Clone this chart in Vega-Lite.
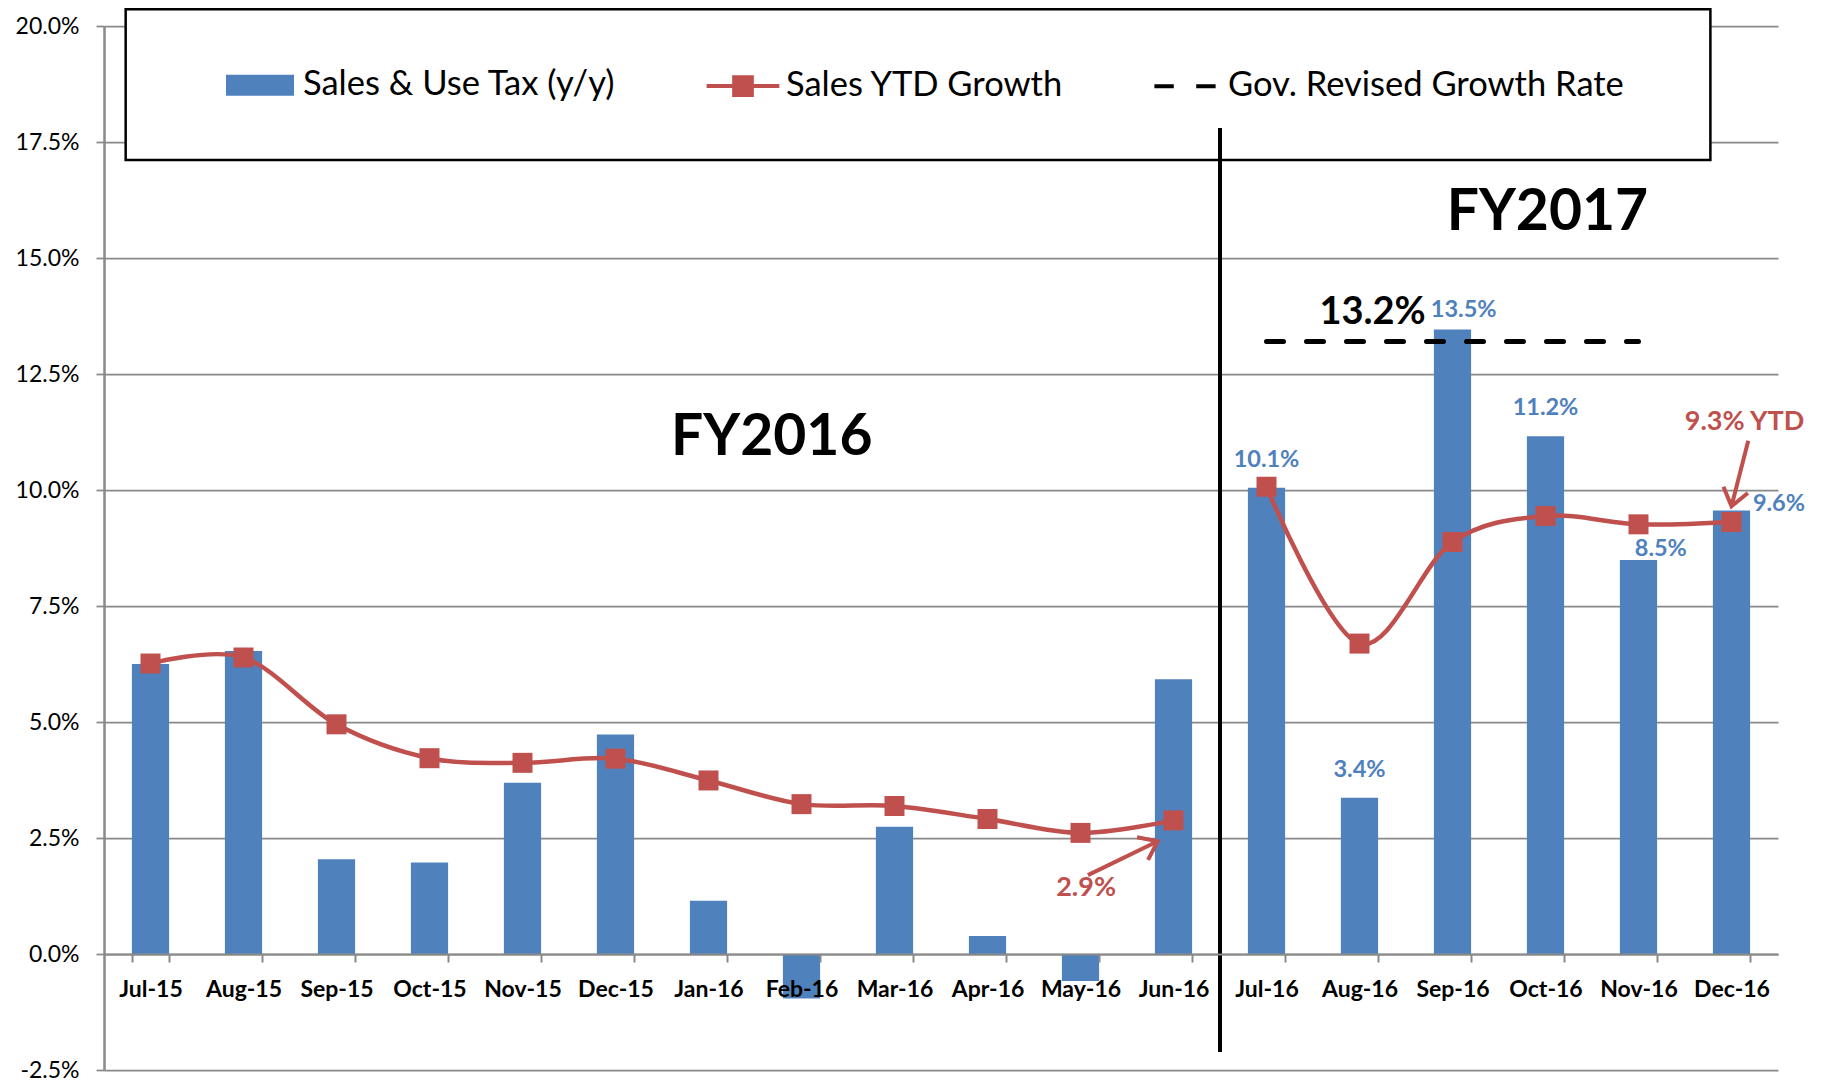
{
  "$schema": "https://vega.github.io/schema/vega-lite/v6.json",
  "width": 1674,
  "height": 1044,
  "autosize": {"type": "none"},
  "padding": {"left": 104, "top": 26, "right": 51, "bottom": 14},
  "background": "white",
  "config": {"font": "Lato", "view": {"stroke": null}},
  "datasets": {
    "months": [
      {"month": "Jul-15", "fy": "FY2016", "tax": 6.25, "ytd": 6.26},
      {"month": "Aug-15", "fy": "FY2016", "tax": 6.53, "ytd": 6.39},
      {"month": "Sep-15", "fy": "FY2016", "tax": 2.04, "ytd": 4.95},
      {"month": "Oct-15", "fy": "FY2016", "tax": 1.97, "ytd": 4.22},
      {"month": "Nov-15", "fy": "FY2016", "tax": 3.69, "ytd": 4.12},
      {"month": "Dec-15", "fy": "FY2016", "tax": 4.73, "ytd": 4.21},
      {"month": "Jan-16", "fy": "FY2016", "tax": 1.15, "ytd": 3.74},
      {"month": "Feb-16", "fy": "FY2016", "tax": -0.96, "ytd": 3.23},
      {"month": "Mar-16", "fy": "FY2016", "tax": 2.74, "ytd": 3.19},
      {"month": "Apr-16", "fy": "FY2016", "tax": 0.39, "ytd": 2.91},
      {"month": "May-16", "fy": "FY2016", "tax": -0.58, "ytd": 2.61},
      {"month": "Jun-16", "fy": "FY2016", "tax": 5.92, "ytd": 2.88},
      {"month": "Jul-16", "fy": "FY2017", "tax": 10.05, "ytd": 10.07, "gov": 13.2},
      {"month": "Aug-16", "fy": "FY2017", "tax": 3.37, "ytd": 6.69, "gov": 13.2},
      {"month": "Sep-16", "fy": "FY2017", "tax": 13.46, "ytd": 8.88, "gov": 13.2},
      {"month": "Oct-16", "fy": "FY2017", "tax": 11.16, "ytd": 9.44, "gov": 13.2},
      {"month": "Nov-16", "fy": "FY2017", "tax": 8.49, "ytd": 9.26, "gov": 13.2},
      {"month": "Dec-16", "fy": "FY2017", "tax": 9.56, "ytd": 9.31}
    ],
    "series": [
      {"series": "Sales & Use Tax (y/y)"},
      {"series": "Sales YTD Growth"},
      {"series": "Gov. Revised Growth Rate"}
    ],
    "notes": [
      {"label": "FY2016", "kind": "period", "xi": 6.68, "y": 11.13},
      {"label": "FY2017", "kind": "period", "xi": 15.02, "y": 15.97},
      {"label": "13.2%", "kind": "gov", "xi": 13.14, "y": 13.82},
      {"label": "10.1%", "kind": "tax", "xi": 12.0, "y": 10.65},
      {"label": "3.4%", "kind": "tax", "xi": 13.0, "y": 3.96},
      {"label": "13.5%", "kind": "tax", "xi": 14.12, "y": 13.88},
      {"label": "11.2%", "kind": "tax", "xi": 15.0, "y": 11.76},
      {"label": "8.5%", "kind": "tax", "xi": 16.24, "y": 8.72},
      {"label": "9.6%", "kind": "tax", "xi": 17.51, "y": 9.69},
      {"label": "2.9%", "kind": "ytd", "xi": 10.06, "y": 1.42},
      {"label": "9.3% YTD", "kind": "ytd", "xi": 17.14, "y": 11.46}
    ],
    "arrows": [
      {"arrow": "A", "x_tail": 10.08, "y_tail": 1.7, "x_tip": 10.83, "y_tip": 2.43},
      {"arrow": "B", "x_tail": 17.18, "y_tail": 11.06, "x_tip": 17.0, "y_tip": 9.65}
    ],
    "divider": [
      {"xi": 11.5, "y_top": 17.8, "y_bottom": -2.11}
    ],
    "frame": [
      {"x_left": -0.267, "x_right": 16.773, "y_top": 20.36, "y_bottom": 17.11}
    ]
  },
  "layer": [
    {
      "data": {"name": "months"},
      "layer": [
        {
          "mark": {"type": "bar", "color": "#4F81BD"},
          "encoding": {
            "x": {
              "field": "month", "type": "nominal", "sort": null,
              "scale": {
                "domain": ["Jul-15", "Aug-15", "Sep-15", "Oct-15", "Nov-15", "Dec-15", "Jan-16", "Feb-16", "Mar-16", "Apr-16", "May-16", "Jun-16", "Jul-16", "Aug-16", "Sep-16", "Oct-16", "Nov-16", "Dec-16"],
                "paddingInner": 0.6, "paddingOuter": 0.3
              },
              "axis": {
                "title": null, "orient": "bottom",
                "offset": {"expr": "scale('y', 0) - height"},
                "tickBand": "extent", "ticks": true, "tickSize": 8, "tickColor": "#898989", "tickWidth": 2,
                "domainColor": "#898989", "domainWidth": 2,
                "labelFont": "Lato", "labelFontWeight": "bold", "labelFontSize": 23, "labelColor": "black",
                "labelPadding": 16, "labelAngle": 0, "grid": false, "zindex": 1
              }
            },
            "y": {
              "field": "tax", "type": "quantitative",
              "scale": {"domain": [-2.5, 20], "nice": false, "zero": false},
              "axis": {
                "title": null,
                "values": [-2.5, 0, 2.5, 5, 7.5, 10, 12.5, 15, 17.5, 20],
                "labelExpr": "(datum.value < 0 ? '-' : '') + format(abs(datum.value), '.1f') + '%'",
                "grid": true, "gridColor": "#898989", "gridWidth": 1.75,
                "domainColor": "#898989", "domainWidth": 2.5,
                "tickColor": "#898989", "tickSize": 8, "tickWidth": 1.75,
                "labelFont": "Lato", "labelFontSize": 23, "labelColor": "black", "labelPadding": 17,
                "zindex": 0
              }
            }
          }
        },
        {
          "mark": {"type": "line", "interpolate": "cardinal", "tension": 0, "strokeWidth": 4.5, "color": "#C0504D"},
          "encoding": {
            "x": {"field": "month", "type": "nominal", "sort": null},
            "y": {"field": "ytd", "type": "quantitative"},
            "detail": {"field": "fy"}
          }
        },
        {
          "mark": {"type": "point", "shape": "square", "filled": true, "size": 400, "opacity": 1, "color": "#C0504D"},
          "encoding": {
            "x": {"field": "month", "type": "nominal", "sort": null},
            "y": {"field": "ytd", "type": "quantitative"}
          }
        },
        {
          "transform": [{"filter": "isValid(datum.gov)"}],
          "mark": {"type": "line", "strokeWidth": 5, "strokeDash": [17, 23], "strokeCap": "round", "color": "black"},
          "encoding": {
            "x": {"field": "month", "type": "nominal", "sort": null},
            "y": {"field": "gov", "type": "quantitative"}
          }
        },
        {
          "data": {"name": "series"},
          "mark": {"type": "point", "filled": true, "opacity": 0},
          "encoding": {
            "color": {
              "field": "series", "type": "nominal",
              "scale": {"domain": ["Sales & Use Tax (y/y)", "Sales YTD Growth", "Gov. Revised Growth Rate"], "range": ["#4F81BD", "#C0504D", "transparent"]},
              "legend": {
                "title": null, "orient": "none", "legendX": 120, "legendY": 23,
                "direction": "horizontal", "columns": 3, "padding": 0,
                "symbolSize": 4624, "symbolStrokeWidth": 4, "symbolOpacity": 1,
                "labelFont": "Lato", "labelFontSize": 34.5, "labelColor": "black",
                "labelOffset": 7, "columnPadding": 82, "labelLimit": 800
              }
            },
            "stroke": {
              "field": "series", "type": "nominal",
              "scale": {"domain": ["Sales & Use Tax (y/y)", "Sales YTD Growth", "Gov. Revised Growth Rate"], "range": ["transparent", "#C0504D", "#000000"]},
              "legend": {
                "title": null, "orient": "none", "legendX": 120, "legendY": 23,
                "direction": "horizontal", "columns": 3, "padding": 0,
                "symbolSize": 4624, "symbolStrokeWidth": 4, "symbolOpacity": 1,
                "labelFont": "Lato", "labelFontSize": 34.5, "labelColor": "black",
                "labelOffset": 7, "columnPadding": 82, "labelLimit": 800
              }
            },
            "shape": {
              "field": "series", "type": "nominal",
              "scale": {"domain": ["Sales & Use Tax (y/y)", "Sales YTD Growth", "Gov. Revised Growth Rate"], "range": ["M-1,-0.31H1V0.31H-1Z", "M-1.07,0H1.07M-0.26,-0.26H0.26V0.26H-0.26Z", "M-0.9,0H-0.33M0.33,0H0.9"]},
              "legend": {
                "title": null, "orient": "none", "legendX": 120, "legendY": 23,
                "direction": "horizontal", "columns": 3, "padding": 0,
                "symbolSize": 4624, "symbolStrokeWidth": 4, "symbolOpacity": 1,
                "labelFont": "Lato", "labelFontSize": 34.5, "labelColor": "black",
                "labelOffset": 7, "columnPadding": 82, "labelLimit": 800
              }
            }
          }
        }
      ]
    },
    {
      "layer": [
        {
          "data": {"name": "frame"},
          "mark": {"type": "rect", "fill": "white", "stroke": "black", "strokeWidth": 2.5},
          "encoding": {
            "x": {"field": "x_left", "type": "quantitative", "scale": {"domain": [-0.5, 17.5], "nice": false, "zero": false}, "axis": null},
            "x2": {"field": "x_right"},
            "y": {"field": "y_top", "type": "quantitative", "scale": {"domain": [-2.5, 20], "nice": false, "zero": false}},
            "y2": {"field": "y_bottom"}
          }
        },
        {
          "data": {"name": "divider"},
          "mark": {"type": "rule", "color": "black", "strokeWidth": 4},
          "encoding": {
            "x": {"field": "xi", "type": "quantitative", "scale": {"domain": [-0.5, 17.5], "nice": false, "zero": false}, "axis": null},
            "y": {"field": "y_top", "type": "quantitative", "scale": {"domain": [-2.5, 20], "nice": false, "zero": false}},
            "y2": {"field": "y_bottom"}
          }
        },
        {
          "data": {"name": "notes"},
          "transform": [{"filter": "datum.kind === 'period'"}],
          "mark": {"type": "text", "font": "Lato", "fontWeight": "bold", "fontSize": 57, "color": "black", "align": "center", "baseline": "middle"},
          "encoding": {
            "x": {"field": "xi", "type": "quantitative", "scale": {"domain": [-0.5, 17.5], "nice": false, "zero": false}, "axis": null},
            "y": {"field": "y", "type": "quantitative", "scale": {"domain": [-2.5, 20], "nice": false, "zero": false}},
            "text": {"field": "label"}
          }
        },
        {
          "data": {"name": "notes"},
          "transform": [{"filter": "datum.kind === 'gov'"}],
          "mark": {"type": "text", "font": "Lato", "fontWeight": "bold", "fontSize": 38, "color": "black", "align": "center", "baseline": "middle"},
          "encoding": {
            "x": {"field": "xi", "type": "quantitative", "scale": {"domain": [-0.5, 17.5], "nice": false, "zero": false}, "axis": null},
            "y": {"field": "y", "type": "quantitative", "scale": {"domain": [-2.5, 20], "nice": false, "zero": false}},
            "text": {"field": "label"}
          }
        },
        {
          "data": {"name": "notes"},
          "transform": [{"filter": "datum.kind === 'tax'"}],
          "mark": {"type": "text", "font": "Lato", "fontWeight": "bold", "fontSize": 23.5, "color": "#4F81BD", "align": "center", "baseline": "middle"},
          "encoding": {
            "x": {"field": "xi", "type": "quantitative", "scale": {"domain": [-0.5, 17.5], "nice": false, "zero": false}, "axis": null},
            "y": {"field": "y", "type": "quantitative", "scale": {"domain": [-2.5, 20], "nice": false, "zero": false}},
            "text": {"field": "label"}
          }
        },
        {
          "data": {"name": "notes"},
          "transform": [{"filter": "datum.kind === 'ytd'"}],
          "mark": {"type": "text", "font": "Lato", "fontWeight": "bold", "fontSize": 27, "color": "#C0504D", "align": "center", "baseline": "middle"},
          "encoding": {
            "x": {"field": "xi", "type": "quantitative", "scale": {"domain": [-0.5, 17.5], "nice": false, "zero": false}, "axis": null},
            "y": {"field": "y", "type": "quantitative", "scale": {"domain": [-2.5, 20], "nice": false, "zero": false}},
            "text": {"field": "label"}
          }
        },
        {
          "data": {"name": "arrows"},
          "mark": {"type": "rule", "color": "#C0504D", "strokeWidth": 4},
          "encoding": {
            "x": {"field": "x_tail", "type": "quantitative", "scale": {"domain": [-0.5, 17.5], "nice": false, "zero": false}, "axis": null},
            "y": {"field": "y_tail", "type": "quantitative", "scale": {"domain": [-2.5, 20], "nice": false, "zero": false}},
            "x2": {"field": "x_tip"},
            "y2": {"field": "y_tip"}
          }
        },
        {
          "data": {"name": "arrows"},
          "transform": [{"filter": "datum.arrow === 'A'"}],
          "mark": {"type": "point", "shape": "M-1,-0.75L0,0L-1,0.75", "filled": false, "color": "#C0504D", "strokeWidth": 4, "size": 1130, "angle": -25.9, "opacity": 1},
          "encoding": {
            "x": {"field": "x_tip", "type": "quantitative", "scale": {"domain": [-0.5, 17.5], "nice": false, "zero": false}, "axis": null},
            "y": {"field": "y_tip", "type": "quantitative", "scale": {"domain": [-2.5, 20], "nice": false, "zero": false}}
          }
        },
        {
          "data": {"name": "arrows"},
          "transform": [{"filter": "datum.arrow === 'B'"}],
          "mark": {"type": "point", "shape": "M-1,-0.75L0,0L-1,0.75", "filled": false, "color": "#C0504D", "strokeWidth": 4, "size": 1130, "angle": 104.3, "opacity": 1},
          "encoding": {
            "x": {"field": "x_tip", "type": "quantitative", "scale": {"domain": [-0.5, 17.5], "nice": false, "zero": false}, "axis": null},
            "y": {"field": "y_tip", "type": "quantitative", "scale": {"domain": [-2.5, 20], "nice": false, "zero": false}}
          }
        }
      ]
    }
  ],
  "resolve": {"scale": {"x": "independent"}, "axis": {"x": "independent"}}
}
